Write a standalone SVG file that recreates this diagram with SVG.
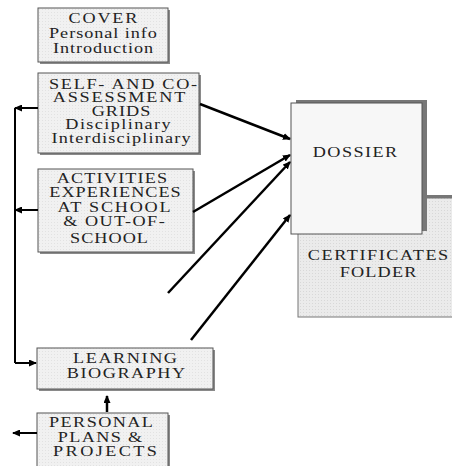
<svg xmlns="http://www.w3.org/2000/svg" width="452" height="466" viewBox="0 0 452 466">
<style>
.box{fill:url(#dots);stroke:#555;stroke-width:1}
.sh{fill:#8a8a8a}
.t{font-family:"Liberation Serif","Times New Roman",serif;font-size:14px;fill:#222;text-anchor:middle}
.c{stroke:#000;stroke-width:2.5;fill:none}
.v{stroke:#000;stroke-width:2;fill:none}
</style>
<defs>
<pattern id="dots" width="3" height="3" patternUnits="userSpaceOnUse">
<rect width="3" height="3" fill="#f1f1f1"/>
<rect width="1" height="1" fill="#e2e2e2"/>
</pattern>
<pattern id="dots2" width="3" height="3" patternUnits="userSpaceOnUse">
<rect width="3" height="3" fill="#ebebeb"/>
<rect width="1" height="1" fill="#d8d8d8"/>
</pattern>
<marker id="ah" markerWidth="8" markerHeight="7" refX="7" refY="3.5" orient="auto" markerUnits="userSpaceOnUse">
<path d="M0,0 L8,3.5 L0,7 Z" fill="#000"/>
</marker>
</defs>

<g id="certificates">
<rect x="303" y="195" width="160" height="119" fill="#777"/>
<rect x="298" y="198" width="160" height="119" fill="url(#dots2)" stroke="#777"/>
<text class="t" transform="matrix(1.3,0,0,1,378,260)" textLength="108" lengthAdjust="spacing">CERTIFICATES</text>
<text class="t" transform="matrix(1.3,0,0,1,378,277)" textLength="59" lengthAdjust="spacing">FOLDER</text>
</g>

<g id="dossier">
<rect x="296" y="100" width="131" height="131" fill="#777"/>
<rect x="291" y="103" width="131" height="131" fill="#f7f7f7" stroke="#555"/>
<text class="t" transform="matrix(1.3,0,0,1,355,157)" textLength="65" lengthAdjust="spacing">DOSSIER</text>
</g>

<g id="cover">
<rect x="40" y="10" width="130" height="54" class="sh"/>
<rect x="38" y="8" width="130" height="54" class="box"/>
<text class="t" transform="matrix(1.3,0,0,1,103,23)" textLength="53" lengthAdjust="spacing">COVER</text>
<text class="t" transform="matrix(1.3,0,0,1,103,38)" textLength="83" lengthAdjust="spacing">Personal info</text>
<text class="t" transform="matrix(1.3,0,0,1,103,53)" textLength="77" lengthAdjust="spacing">Introduction</text>
</g>

<g id="self">
<rect x="40" y="75" width="161" height="80" class="sh"/>
<rect x="38" y="73" width="161" height="80" class="box"/>
<text class="t" transform="matrix(1.3,0,0,1,123,89)" textLength="114" lengthAdjust="spacing">SELF- AND CO-</text>
<text class="t" transform="matrix(1.3,0,0,1,119,102)" textLength="102" lengthAdjust="spacing">ASSESSMENT</text>
<text class="t" transform="matrix(1.3,0,0,1,121,116)" textLength="45" lengthAdjust="spacing">GRIDS</text>
<text class="t" transform="matrix(1.3,0,0,1,118,129)" textLength="81" lengthAdjust="spacing">Disciplinary</text>
<text class="t" transform="matrix(1.3,0,0,1,121,143)" textLength="107" lengthAdjust="spacing">Interdisciplinary</text>
</g>

<g id="activities">
<rect x="40" y="171" width="155" height="83" class="sh"/>
<rect x="38" y="169" width="155" height="83" class="box"/>
<text class="t" transform="matrix(1.3,0,0,1,112,183)" textLength="85" lengthAdjust="spacing">ACTIVITIES</text>
<text class="t" transform="matrix(1.3,0,0,1,115,197)" textLength="101" lengthAdjust="spacing">EXPERIENCES</text>
<text class="t" transform="matrix(1.3,0,0,1,114,212)" textLength="87" lengthAdjust="spacing">AT SCHOOL</text>
<text class="t" transform="matrix(1.3,0,0,1,114,226)" textLength="78" lengthAdjust="spacing">&amp; OUT-OF-</text>
<text class="t" transform="matrix(1.3,0,0,1,109,243)" textLength="60" lengthAdjust="spacing">SCHOOL</text>
</g>

<g id="learning">
<rect x="39" y="350" width="176" height="41" class="sh"/>
<rect x="37" y="348" width="176" height="41" class="box"/>
<text class="t" transform="matrix(1.3,0,0,1,125,363)" textLength="80" lengthAdjust="spacing">LEARNING</text>
<text class="t" transform="matrix(1.3,0,0,1,126,378)" textLength="91" lengthAdjust="spacing">BIOGRAPHY</text>
</g>

<g id="personal">
<rect x="39" y="415" width="131" height="60" class="sh"/>
<rect x="37" y="413" width="131" height="60" class="box"/>
<text class="t" transform="matrix(1.3,0,0,1,101,427)" textLength="80" lengthAdjust="spacing">PERSONAL</text>
<text class="t" transform="matrix(1.3,0,0,1,100,442)" textLength="65" lengthAdjust="spacing">PLANS &amp;</text>
<text class="t" transform="matrix(1.3,0,0,1,105,456)" textLength="80" lengthAdjust="spacing">PROJECTS</text>
</g>

<g id="connectors">
<line class="c" x1="200" y1="104" x2="290" y2="139" marker-end="url(#ah)"/>
<line class="c" x1="193" y1="212" x2="290" y2="155" marker-end="url(#ah)"/>
<line class="c" x1="168" y1="293" x2="290" y2="162" marker-end="url(#ah)"/>
<line class="c" x1="191" y1="340" x2="290" y2="215" marker-end="url(#ah)"/>
<polyline class="v" points="15,363 15,108"/>
<line class="v" x1="38" y1="108" x2="15" y2="108" marker-end="url(#ah)"/>
<line class="v" x1="38" y1="210" x2="15" y2="210" marker-end="url(#ah)"/>
<line class="v" x1="15" y1="363" x2="36" y2="363" marker-end="url(#ah)"/>
<line class="v" x1="37" y1="433" x2="13" y2="433" marker-end="url(#ah)"/>
<line class="c" x1="107" y1="412" x2="107" y2="396" marker-end="url(#ah)"/>
</g>
</svg>
